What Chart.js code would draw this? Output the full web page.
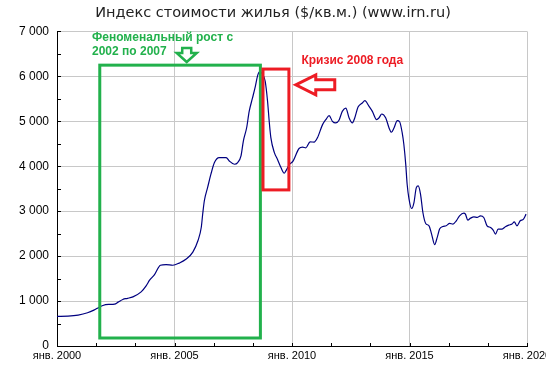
<!DOCTYPE html>
<html><head><meta charset="utf-8">
<script src="https://cdn.jsdelivr.net/npm/chart.js@4/dist/chart.umd.min.js"></script>
<style>html,body{margin:0;padding:0;background:#fff}#wrap{width:546px;height:380px}</style>
</head><body><div id="wrap"><canvas id="c" width="546" height="380"></canvas></div>
<script>
const chartTitle = 'Индекс стоимости жилья ($/кв.м.) (www.irn.ru)';
// dates as decimal years
const dates = [
 2000.00,2000.47,2000.90,2001.30,2001.57,2001.78,2001.95,2002.20,2002.45,2002.60,2002.80,2003.00,2003.23,2003.58,2003.80,2003.94,
 2004.15,2004.40,2004.64,2004.93,2005.20,2005.50,2005.78,2006.00,2006.14,2006.20,2006.27,2006.41,2006.55,2006.70,2006.90,2007.20,
 2007.33,2007.55,2007.69,2007.83,2007.93,2008.07,2008.18,2008.32,2008.44,2008.54,2008.62,2008.75,2008.86,2008.96,2009.03,2009.10,
 2009.25,2009.38,2009.53,2009.67,2009.74,2009.88,2010.05,2010.30,2010.45,2010.59,2010.77,2010.94,2011.08,2011.30,2011.44,2011.58,
 2011.72,2011.86,2012.00,2012.14,2012.29,2012.43,2012.57,2012.67,2012.81,2012.99,2013.10,2013.28,2013.42,2013.60,2013.70,2013.82,
 2013.99,2014.13,2014.23,2014.34,2014.48,2014.58,2014.69,2014.76,2014.84,2014.90,2014.98,2015.09,2015.19,2015.29,2015.37,2015.47,
 2015.57,2015.69,2015.83,2015.94,2016.07,2016.18,2016.28,2016.42,2016.56,2016.71,2016.85,2016.99,2017.13,2017.31,2017.38,2017.48,
 2017.60,2017.74,2017.88,2018.02,2018.16,2018.30,2018.45,2018.56,2018.66,2018.77,2018.94,2019.08,2019.22,2019.36,2019.46,2019.57,
 2019.71,2019.85,2019.96
];
const values = [
 660,665,688,740,799,858,902,925,932,976,1036,1060,1094,1205,1345,1464,
 1590,1797,1812,1797,1845,1934,2089,2347,2642,2937,3232,3528,3823,4081,4192,4192,
 4118,4044,4081,4229,4561,4856,5225,5520,5779,6022,6100,6050,5889,5446,5000,4635,
 4303,4155,3970,3845,3897,4030,4118,4395,4424,4410,4542,4535,4631,4926,5037,5125,
 5000,4963,5022,5221,5295,5074,4963,5074,5317,5406,5458,5332,5221,5037,5074,5162,
 5074,4852,4756,4852,5015,4990,4742,4483,4041,3598,3266,3059,3192,3524,3561,3376,
 2970,2727,2675,2491,2255,2417,2601,2660,2675,2727,2712,2786,2897,2956,2934,2801,
 2845,2875,2860,2897,2860,2675,2638,2579,2491,2601,2601,2653,2690,2712,2764,2675,
 2786,2823,2934
];
const xLabelYears = [2000, 2005, 2010, 2015, 2020];
const xLabelPrefix = 'янв. ';
const yLabelValues = [0, 1000, 2000, 3000, 4000, 5000, 6000, 7000];
const greenText = ['Феноменальный рост с', '2002 по 2007'];
const redText = ['Кризис 2008 года'];

const GREEN = '#22b14c', RED = '#ed1c24';
const toMonths = y => Math.round((y - 2000) * 12 * 100) / 100;
const points = dates.map((d, i) => ({x: toMonths(d), y: values[i]}));

// annotation anchors in data units (year, value)
const ann = {
  greenBox: {x0: 2001.82, x1: 2008.655, y0: 178, y1: 6249},
  redBox: {x0: 2008.766, x1: 2009.868, y0: 3473, y1: 6162},
  greenTextPos: {x: 2001.49, y: [6856, 6556]},
  redTextPos: {x: 2010.40, y: [6356]},
  greenArrowTip: {x: 2005.52, y: 6318},
  redArrowTip: {x: 2010.16, y: 5811}
};

const fmt = v => String(v).replace(/\B(?=(\d{3})+(?!\d))/g, ' ');

const decor = {
  id: 'decor',
  afterDatasetsDraw(chart) {
    const c = chart.ctx, xs = chart.scales.x, ys = chart.scales.y, a = chart.chartArea;
    const X = y => xs.getPixelForValue(toMonths(y));
    const Y = v => ys.getPixelForValue(v);
    c.save();
    // inward tick marks
    c.strokeStyle = '#000'; c.lineWidth = 1;
    c.beginPath();
    xs.ticks.forEach(t => { const p = Math.round(xs.getPixelForValue(t.value)) + 0.5; c.moveTo(p, a.bottom); c.lineTo(p, a.bottom - 3); });
    ys.ticks.forEach(t => { const p = Math.round(ys.getPixelForValue(t.value)) + 0.5; c.moveTo(a.left, p); c.lineTo(a.left + 4, p); });
    c.stroke();
    // boxes
    c.lineWidth = 3;
    const box = (b, col) => { c.strokeStyle = col; c.strokeRect(X(b.x0), Y(b.y1), X(b.x1) - X(b.x0), Y(b.y0) - Y(b.y1)); };
    box(ann.greenBox, GREEN);
    box(ann.redBox, RED);
    // arrows
    const poly = (tx, ty, pts, col, lw) => {
      c.beginPath();
      pts.forEach((p, i) => i ? c.lineTo(tx + p[0], ty + p[1]) : c.moveTo(tx + p[0], ty + p[1]));
      c.closePath(); c.fillStyle = '#fff'; c.fill();
      c.strokeStyle = col; c.lineWidth = lw; c.lineJoin = 'miter'; c.stroke();
    };
    poly(X(ann.greenArrowTip.x), Y(ann.greenArrowTip.y),
      [[-4.5,-14],[4.5,-14],[4.5,-9],[10,-9],[0,0],[-10,-9],[-4.5,-9]], GREEN, 2.5);
    poly(X(ann.redArrowTip.x), Y(ann.redArrowTip.y),
      [[0,0],[20,-10],[20,-5],[39,-5],[39,5],[20,5],[20,10]], RED, 3);
    // texts
    c.font = 'bold 12px "Liberation Sans", Arial, sans-serif';
    c.textBaseline = 'middle'; c.textAlign = 'left';
    c.fillStyle = GREEN;
    greenText.forEach((t, i) => c.fillText(t, X(ann.greenTextPos.x), Y(ann.greenTextPos.y[i])));
    c.fillStyle = RED;
    redText.forEach((t, i) => c.fillText(t, X(ann.redTextPos.x), Y(ann.redTextPos.y[i])));
    c.restore();
  }
};

new Chart(document.getElementById('c'), {
  type: 'line',
  data: { datasets: [{
    data: points, borderColor: '#000080', borderWidth: 1.2, pointRadius: 0,
    fill: false, cubicInterpolationMode: 'monotone'
  }]},
  options: {
    responsive: false, animation: false, devicePixelRatio: 1,
    layout: { padding: { left: 0, right: 0, top: 0, bottom: 0 } },
    plugins: {
      legend: { display: false }, tooltip: { enabled: false },
      title: { display: true, text: chartTitle, color: '#222',
        font: { family: '"DejaVu Sans", sans-serif', size: 14.5, weight: 'normal' },
        padding: { top: 5, bottom: 9 } }
    },
    scales: {
      x: {
        type: 'linear', min: 0, max: 240,
        afterFit: s => { s.height = 34; s.paddingLeft = 0; s.paddingRight = 19; },
        grid: { drawTicks: false, color: ctx => (ctx.tick && ctx.tick.value % 60 === 0) ? '#c8c8c8' : 'rgba(0,0,0,0)' },
        border: { color: '#000', width: 1 },
        ticks: {
          stepSize: 20, autoSkip: false, maxRotation: 0, padding: 3, color: '#000',
          font: { family: '"Liberation Sans", Arial, sans-serif', size: 11 },
          callback: v => { const yr = 2000 + v / 12; return xLabelYears.includes(yr) ? xLabelPrefix + yr : ''; }
        }
      },
      y: {
        min: 0, max: 7000,
        afterFit: s => { s.width = 57; },
        grid: { drawTicks: false, color: ctx => (ctx.tick && yLabelValues.includes(ctx.tick.value)) ? '#c8c8c8' : 'rgba(0,0,0,0)' },
        border: { color: '#000', width: 1 },
        ticks: {
          stepSize: 500, autoSkip: false, padding: 8, color: '#000',
          font: { family: '"Liberation Sans", Arial, sans-serif', size: 12 },
          callback: v => yLabelValues.includes(v) ? fmt(v) : ''
        }
      }
    }
  },
  plugins: [decor]
});
</script></body></html>
